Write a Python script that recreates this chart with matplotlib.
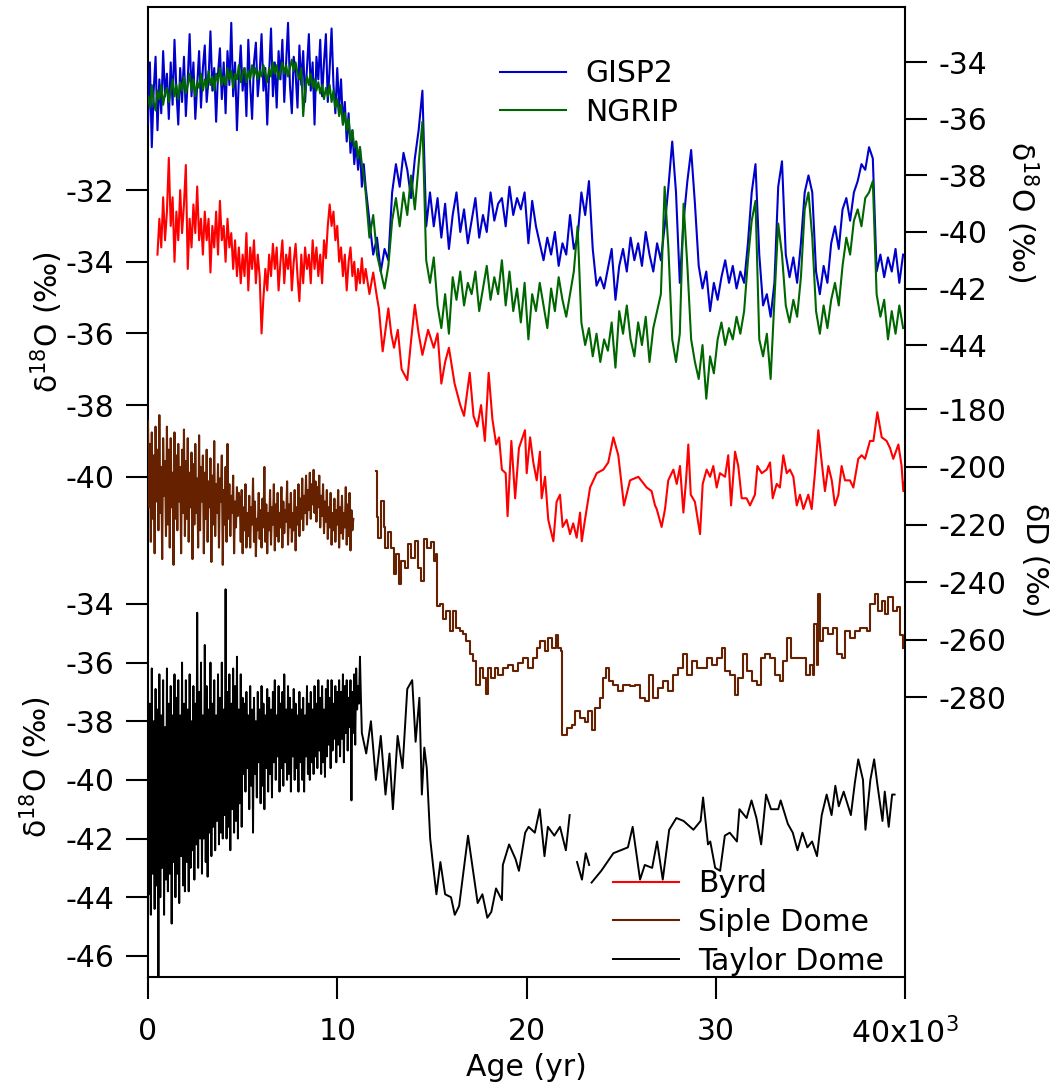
import numpy as np
import matplotlib.pyplot as plt

plt.rcParams['font.family'] = 'DejaVu Sans'
plt.rcParams['axes.unicode_minus'] = False

# ---------------- GISP2 d18O (permil) ----------------
# Holocene part, one value per 100 yr from 0 yr
gisp2_hol = [
    -36.2, -34.0, -37.0, -35.0, -33.8, -36.4, -34.6, -35.8, -33.6, -35.2,
    -34.4, -36.0, -34.0, -35.5, -33.2, -35.0, -36.2, -34.2, -35.4, -33.8,
    -35.9, -34.6, -33.0, -35.2, -34.0, -36.0, -34.8, -33.6, -35.6, -34.2,
    -33.4, -35.4, -34.6, -32.9, -35.0, -34.2, -36.1, -34.4, -33.5, -35.3,
    -34.0, -35.8, -33.6, -34.8, -32.6, -35.2, -34.0, -36.4, -34.6, -33.4,
    -35.0, -34.2, -35.9, -33.2, -34.8, -36.0, -34.0, -33.3, -35.2, -34.4,
    -33.0, -35.0, -34.2, -36.2, -34.4, -32.8, -35.2, -34.0, -35.6, -33.6,
    -34.6, -33.2, -35.4, -34.0, -32.6, -34.8, -35.8, -33.8, -34.4, -35.6,
    -33.4, -34.8, -33.6, -35.4, -34.2, -33.0, -35.0, -34.0, -36.2, -33.8,
    -34.6, -33.2, -35.2, -34.0, -33.0, -35.4, -34.2, -32.8, -34.8, -35.8,
    -34.2, -35.6, -34.6, -36.2, -35.4, -36.8, -35.8, -37.2, -36.4, -37.6,
    -36.8, -37.8, -37.0, -38.4, -37.6]
# glacial part, one value per 200 yr from 11.5 kyr
gisp2_gla = [
    -38.4, -39.6, -40.8, -40.2, -41.4, -40.6, -41.0, -38.6, -37.6, -38.4,
    -37.2, -37.8, -38.8, -37.4, -36.4, -35.0, -39.8, -38.6, -39.8, -38.8,
    -40.2, -39.0, -40.6, -39.4, -38.6, -40.0, -39.2, -40.4, -39.6, -38.8,
    -40.2, -39.4, -40.0, -38.6, -39.6, -39.0, -38.8, -39.8, -38.4, -39.4,
    -38.8, -39.2, -38.6, -40.4, -38.9, -39.8, -40.4, -41.0, -40.2, -40.8,
    -40.0, -41.2, -40.4, -40.8, -39.4, -40.6, -40.2, -38.6, -39.4, -38.2,
    -40.6, -41.9, -41.6, -42.0, -41.3, -40.6, -42.4, -41.2, -40.6, -41.4,
    -40.2, -41.0, -40.4, -41.2, -40.0, -40.8, -41.4, -40.4, -41.0, -39.8,
    -38.4, -36.8, -38.6, -41.8, -39.6, -38.2, -37.1, -39.0, -41.2, -42.0,
    -41.4, -42.8, -41.8, -42.4, -41.6, -41.0, -41.8, -41.2, -42.0, -41.4,
    -41.8, -40.4, -38.6, -37.6, -40.8, -42.6, -42.2, -43.0, -41.8, -38.4,
    -37.5, -40.8, -41.6, -40.9, -41.8, -40.4, -38.6, -38.0, -38.6, -41.4,
    -42.2, -41.2, -41.8, -40.4, -39.8, -40.6, -39.2, -38.8, -39.6, -38.6,
    -38.2, -37.6, -37.8, -37.0, -37.4, -41.4, -40.8, -41.6, -40.9, -41.4,
    -40.6, -41.8, -40.8]

# ---------------- NGRIP d18O (permil) ----------------
ngrip_hol = [
    -35.2, -35.6, -34.8, -35.4, -35.7, -35.0, -35.3, -34.8, -35.5, -35.1,
    -34.9, -35.4, -35.0, -34.6, -35.2, -34.8, -35.3, -34.7, -35.0, -34.5,
    -35.1, -34.8, -34.4, -35.0, -34.6, -35.2, -34.7, -34.9, -34.4, -35.0,
    -34.6, -34.9, -34.3, -34.8, -34.5, -35.0, -34.4, -34.7, -34.2, -34.8,
    -34.5, -34.8, -34.2, -34.6, -34.3, -34.9, -34.4, -34.6, -34.1, -34.7,
    -34.4, -34.2, -34.7, -34.3, -34.6, -34.1, -34.5, -34.2, -34.6, -34.3,
    -34.5, -34.1, -34.4, -34.7, -34.2, -34.5, -34.0, -34.4, -34.1, -34.6,
    -34.3, -34.0, -34.4, -34.1, -34.5, -34.2, -33.9, -34.3, -34.0, -34.4,
    -34.6, -34.2, -35.9, -35.0, -34.5, -34.8, -34.4, -34.9, -34.6, -35.0,
    -34.7, -35.1, -34.8, -35.3, -34.9, -35.2, -34.8, -35.4, -35.0, -35.6,
    -35.3, -35.9, -35.5, -36.2, -35.8, -36.4, -36.0, -36.8, -36.4, -37.0,
    -36.8, -37.4, -37.0, -37.6, -38.0]
ngrip_gla = [
    -38.6, -40.2, -39.4, -40.8, -41.4, -42.0, -41.2, -39.6, -38.8, -39.8,
    -38.6, -39.4, -38.0, -39.2, -37.6, -36.1, -41.0, -41.8, -40.9, -42.6,
    -43.4, -42.2, -43.6, -41.6, -42.4, -41.4, -42.6, -41.8, -42.2, -41.4,
    -42.8, -42.0, -41.2, -42.4, -41.6, -42.2, -41.0, -42.6, -41.4, -42.8,
    -42.0, -43.2, -41.8, -43.8, -42.2, -42.8, -41.8, -42.6, -43.4, -42.0,
    -42.8, -41.6, -42.4, -43.0, -42.2, -41.4, -39.8, -43.2, -44.0, -43.4,
    -44.4, -43.6, -44.6, -43.8, -44.2, -43.2, -44.8, -42.8, -43.6, -42.6,
    -43.8, -44.4, -43.2, -44.0, -43.0, -44.6, -43.4, -42.8, -42.2, -38.4,
    -40.6, -43.8, -44.6, -43.6, -39.0, -41.2, -43.8, -44.6, -45.2, -44.0,
    -45.9, -44.4, -45.0, -43.8, -43.2, -44.0, -43.4, -43.8, -43.0, -43.6,
    -42.8, -41.0, -39.6, -38.9, -43.8, -44.4, -43.6, -45.2, -42.4, -39.7,
    -40.8, -42.6, -43.2, -42.4, -43.0, -41.6, -39.2, -38.6, -40.2, -42.8,
    -43.6, -42.6, -43.4, -42.4, -41.8, -42.6, -41.2, -40.2, -40.8, -39.6,
    -39.2, -39.8, -38.8, -38.6, -38.2, -42.2, -43.0, -42.4, -43.8, -42.8,
    -43.6, -42.6, -43.4]

# ---------------- Byrd d18O (permil) ----------------
# one value per 100 yr from 0.5 kyr
byrd_hol = [
    -33.8, -32.8, -33.6, -32.2, -33.4, -32.6, -31.1, -33.0, -32.2, -34.0,
    -32.6, -33.4, -32.0, -33.2, -32.4, -31.3, -34.2, -32.8, -33.6, -32.4,
    -33.2, -31.9, -33.4, -32.8, -33.8, -32.6, -33.4, -32.8, -34.3, -33.0,
    -33.6, -32.6, -33.8, -32.3, -33.4, -33.0, -34.0, -32.8, -33.6, -33.2,
    -34.2, -33.4, -34.4, -33.6, -34.6, -33.8, -34.4, -33.2, -34.8, -33.6,
    -34.2, -33.4, -34.6, -33.8, -34.4, -36.0, -35.0, -34.2, -34.8, -33.8,
    -34.4, -33.5, -34.2, -33.6, -34.8, -34.0, -33.4, -34.6, -33.8, -34.2,
    -33.6, -34.8, -34.0, -33.5, -34.4, -35.1, -33.8, -34.6, -33.6, -34.2,
    -33.8, -34.6, -33.4, -34.2, -33.6, -34.4, -33.8, -34.6, -33.4, -33.9,
    -33.0, -32.4, -33.0, -32.6, -33.4, -33.0, -34.0, -33.6, -34.4, -33.8,
    -34.8, -34.0, -33.6, -34.4, -34.0, -34.8, -34.2, -34.6, -33.9, -34.6]
byrd_gla_age = [
    11.5, 11.7, 11.9, 12.1, 12.2, 12.4, 12.7, 12.85, 13.0, 13.2,
    13.4, 13.7, 13.9, 14.1, 14.3, 14.5, 14.8, 15.1, 15.3, 15.5,
    15.7, 15.9, 16.2, 16.5, 16.7, 17.0, 17.2, 17.4, 17.6, 17.8,
    18.0, 18.2, 18.4, 18.55, 18.7, 18.9, 19.0, 19.2, 19.4, 19.6,
    19.92, 20.01, 20.19, 20.36, 20.54, 20.71, 20.80, 20.98, 21.15, 21.42,
    21.59, 21.77, 21.91, 22.12, 22.30, 22.47, 22.65, 22.83, 22.92, 23.09,
    23.36, 23.71, 24.06, 24.32, 24.59, 24.85, 25.15, 25.47, 25.91, 26.35,
    26.61, 26.79, 26.88, 27.14, 27.32, 27.49, 27.76, 27.94, 28.11, 28.29,
    28.43, 28.55, 28.68, 28.90, 29.17, 29.31, 29.52, 29.70, 29.87, 30.05,
    30.22, 30.49, 30.66, 30.81, 31.02, 31.19, 31.37, 31.63, 31.81, 32.07,
    32.20, 32.43, 32.69, 32.87, 33.01, 33.22, 33.39, 33.57, 33.75, 33.92,
    34.10, 34.28, 34.45, 34.63, 34.89, 35.07, 35.24, 35.42, 35.60, 35.77,
    35.95, 36.13, 36.30, 36.48, 36.65, 36.83, 37.09, 37.27, 37.53, 37.71,
    37.89, 38.15, 38.33, 38.54, 38.77, 39.03, 39.21, 39.38, 39.65, 39.82,
    39.91, 40.00]
byrd_gla = [
    -34.2, -34.9, -34.3, -35.0, -35.3, -36.5, -35.3, -36.0, -36.4, -35.9,
    -37.0, -37.3, -36.2, -35.2, -36.0, -36.6, -35.9, -36.4, -36.0, -37.4,
    -36.8, -36.4, -37.4, -38.0, -38.3, -37.1, -38.3, -38.6, -38.0, -39.0,
    -37.1, -38.4, -39.1, -38.9, -39.8, -39.9, -41.1, -39.0, -40.6, -39.2,
    -38.7, -39.9, -38.9, -39.6, -40.1, -39.3, -40.6, -40.0, -41.2, -41.8,
    -40.7, -40.5, -41.4, -41.2, -41.6, -41.3, -41.7, -41.0, -41.8, -41.2,
    -40.3, -39.9, -39.8, -39.6, -38.9, -39.4, -40.8, -40.1, -40.0, -40.3,
    -40.4, -40.8, -40.9, -41.4, -40.9, -40.1, -39.8, -40.2, -39.7, -41.0,
    -40.1, -39.1, -40.5, -40.7, -41.6, -40.2, -39.8, -40.0, -39.7, -40.3,
    -39.9, -40.0, -39.4, -40.8, -39.3, -39.7, -40.6, -40.6, -40.8, -40.5,
    -39.7, -39.9, -39.8, -39.6, -40.6, -40.2, -40.3, -39.4, -39.9, -39.8,
    -40.0, -40.8, -40.5, -40.9, -40.5, -40.9, -39.9, -38.7, -39.6, -40.4,
    -39.7, -40.1, -40.8, -40.5, -39.7, -40.1, -40.1, -40.3, -39.5, -39.4,
    -39.5, -39.0, -39.0, -38.2, -38.9, -39.0, -39.2, -39.5, -39.1, -39.7,
    -40.4, -40.1]

# ---------------- Siple Dome dD (permil) ----------------
# one value per 50 yr from 0 to 4.8 kyr
siple_hol_a = [
    -184, -214, -192, -226, -188, -218, -196, -230, -186, -212,
    -194, -222, -182, -216, -200, -232, -190, -210, -198, -224,
    -186, -220, -194, -228, -190, -214, -202, -234, -188, -218,
    -196, -222, -192, -212, -200, -230, -194, -216, -187, -224,
    -198, -218, -190, -226, -202, -214, -195, -232, -199, -220,
    -192, -216, -204, -228, -189, -222, -200, -212, -196, -230,
    -202, -218, -194, -226, -205, -214, -197, -233, -203, -220,
    -191, -224, -206, -216, -199, -228, -204, -212, -196, -234,
    -208, -220, -200, -226, -192, -218, -206, -224, -210, -216,
    -203, -230, -212, -221, -207, -217, -209]
# one value per 50 yr from 4.85 to 10.85 kyr
siple_hol_b = [
    -212, -226, -208, -230, -214, -222, -206, -228, -216, -224,
    -210, -228, -214, -220, -204, -226, -212, -231, -218, -222,
    -209, -225, -215, -228, -211, -221, -200, -226, -213, -230,
    -216, -222, -208, -227, -214, -220, -206, -229, -213, -224,
    -209, -226, -216, -221, -207, -228, -212, -223, -215, -219,
    -205, -227, -213, -221, -209, -226, -216, -222, -208, -229,
    -214, -220, -206, -224, -211, -218, -204, -222, -210, -216,
    -203, -220, -208, -215, -202, -218, -206, -213, -201, -216,
    -205, -219, -207, -214, -203, -221, -210, -217, -206, -223,
    -212, -219, -208, -225, -214, -221, -209, -227, -216, -222,
    -211, -226, -215, -220, -208, -228, -214, -223, -210, -225,
    -216, -221, -207, -227, -213, -224, -209, -229, -215, -222,
    -218]
siple_gla_age = [
    12.03, 12.08, 12.15, 12.33, 12.47, 12.54, 12.68, 12.82, 12.98, 13.12,
    13.25, 13.39, 13.56, 13.74, 13.91, 14.09, 14.27, 14.41, 14.58, 14.76,
    14.94, 15.11, 15.24, 15.28, 15.41, 15.59, 15.76, 15.94, 16.12, 16.29,
    16.47, 16.65, 16.82, 17.00, 17.17, 17.35, 17.53, 17.70, 17.84, 17.97,
    18.14, 18.32, 18.50, 18.76, 19.02, 19.29, 19.55, 19.83, 20.10, 20.36,
    20.54, 20.71, 20.98, 21.15, 21.33, 21.56, 21.68, 21.80, 21.89, 22.12,
    22.38, 22.56, 22.83, 23.09, 23.27, 23.44, 23.62, 23.88, 24.06, 24.20,
    24.38, 24.59, 24.85, 25.12, 25.47, 25.73, 25.99, 26.26, 26.49, 26.70,
    26.97, 27.23, 27.49, 27.76, 28.03, 28.25, 28.46, 28.73, 28.99, 29.26,
    29.52, 29.79, 30.05, 30.31, 30.49, 30.75, 31.02, 31.19, 31.42, 31.63,
    31.90, 32.16, 32.37, 32.60, 32.87, 33.13, 33.39, 33.57, 33.75, 33.96,
    34.28, 34.54, 34.77, 34.98, 35.12, 35.21, 35.33, 35.42, 35.51, 35.68,
    35.95, 36.21, 36.39, 36.65, 36.83, 37.09, 37.36, 37.62, 37.98, 38.15,
    38.42, 38.59, 38.77, 38.95, 39.12, 39.35, 39.56, 39.74, 39.91]
siple_gla = [
    -201.3, -217.5, -224.5, -211.7, -220.8, -228.0, -222.6, -228.0, -237.3, -230.3,
    -240.7, -232.6, -235.0, -226.8, -231.5, -225.6, -235.0, -239.6, -225.0, -228.0,
    -226.2, -232.6, -230.3, -248.3, -247.7, -252.9, -250.0, -257.0, -250.0, -255.8,
    -257.0, -258.1, -260.5, -265.1, -267.4, -275.6, -269.9, -273.3, -279.0, -269.9,
    -273.3, -269.9, -272.2, -269.9, -268.7, -271.0, -268.2, -266.3, -269.8, -266.3,
    -262.8, -260.5, -264.0, -259.3, -262.8, -258.2, -262.8, -264.0, -293.0, -290.7,
    -289.5, -284.9, -287.2, -288.4, -284.9, -291.3, -283.7, -280.2, -273.3, -269.8,
    -274.4, -275.6, -277.9, -275.6, -276.2, -275.6, -280.2, -281.4, -272.1, -280.2,
    -276.7, -274.4, -277.9, -272.1, -269.8, -265.1, -272.1, -267.5, -269.8, -269.8,
    -266.3, -268.6, -266.3, -262.8, -270.9, -272.1, -279.1, -273.3, -265.1, -270.9,
    -274.4, -275.6, -266.3, -265.1, -266.3, -272.1, -274.4, -267.5, -259.3, -266.3,
    -266.3, -266.3, -272.1, -268.6, -272.1, -254.7, -268.6, -244.2, -260.5, -255.8,
    -258.1, -255.8, -265.1, -266.3, -257.0, -259.3, -257.0, -255.8, -257.0, -247.7,
    -244.2, -250.0, -246.5, -251.1, -245.3, -250.0, -248.8, -258.2, -262.8]

# ---------------- Taylor Dome d18O (permil) ----------------
# one value per 50 yr from 0 to 5 kyr
taylor_hol_a = [
    -36.8, -43.9, -37.4, -44.6, -36.2, -43.2, -38.0, -44.4, -36.9, -43.6,
    -37.6, -46.9, -36.4, -44.0, -37.8, -43.0, -36.6, -44.6, -38.2, -43.4,
    -36.2, -43.8, -37.4, -43.2, -36.8, -44.9, -37.8, -42.8, -36.4, -44.0,
    -37.2, -43.2, -36.6, -44.2, -37.8, -42.6, -36.0, -43.6, -37.4, -43.8,
    -36.6, -42.8, -37.6, -43.8, -36.4, -43.0, -38.0, -42.4, -36.8, -43.4,
    -37.4, -42.2, -34.3, -43.0, -37.0, -42.0, -36.0, -43.2, -37.8, -42.0,
    -35.4, -42.8, -36.8, -43.3, -37.6, -41.8, -36.0, -42.6, -37.4, -41.6,
    -36.6, -42.4, -37.8, -41.4, -36.4, -42.2, -37.2, -41.8, -36.0, -42.0,
    -37.6, -41.2, -33.5, -42.0, -37.0, -41.6, -36.4, -42.4, -37.4, -41.0,
    -36.2, -41.8, -36.8, -41.4, -35.8, -42.0, -37.6, -40.8, -36.4, -41.6,
    -37.2]
# one value per 50 yr from 5.05 to 11.3 kyr
taylor_hol_b = [
    -39.8, -37.4, -40.4, -37.0, -39.6, -37.8, -41.0, -36.8, -40.2, -37.6,
    -41.8, -37.2, -39.8, -38.0, -40.6, -37.0, -39.4, -37.6, -40.8, -36.8,
    -40.2, -37.4, -41.0, -37.8, -39.6, -36.9, -40.4, -37.2, -39.8, -37.6,
    -40.6, -37.0, -39.4, -36.6, -40.0, -37.8, -39.2, -36.8, -40.4, -37.4,
    -39.6, -37.0, -40.2, -36.4, -39.4, -37.6, -40.0, -36.8, -39.8, -37.2,
    -40.4, -37.6, -39.2, -36.9, -40.0, -37.4, -39.6, -37.8, -40.4, -37.0,
    -39.4, -37.6, -40.0, -37.2, -40.4, -37.8, -39.2, -36.8, -39.8, -37.4,
    -40.0, -37.0, -39.4, -37.6, -39.8, -36.8, -39.2, -37.4, -39.6, -36.6,
    -39.0, -37.2, -39.8, -36.8, -39.4, -37.6, -39.9, -36.9, -39.2, -36.6,
    -38.8, -37.2, -39.6, -36.6, -39.0, -37.4, -38.6, -36.8, -39.4, -37.0,
    -38.8, -36.6, -39.2, -37.0, -38.6, -36.4, -39.4, -36.8, -38.4, -36.6,
    -39.0, -37.2, -38.2, -36.6, -40.7, -37.0, -38.4, -36.4, -38.8, -36.2,
    -37.6, -36.8, -37.4, -35.8, -37.2, -38.4]
taylor_gla_age = [
    11.53, 11.78, 12.04, 12.30, 12.55, 12.76, 12.94, 13.19, 13.45, 13.70,
    13.96, 14.14, 14.34, 14.47, 14.60, 14.73, 14.91, 15.06, 15.24, 15.45,
    15.70, 16.01, 16.21, 16.44, 16.91, 17.42, 17.67, 17.93, 18.14, 18.39,
    18.70, 18.75, 19.08, 19.42, 19.60, 19.93, 20.11, 20.44, 20.70, 20.95,
    21.13, 21.47, 21.77, 22.08, 22.28, 22.45, 22.67, 22.93, 23.13, 23.31,
    23.38, 23.44, 23.95, 24.59, 25.36, 25.61, 26.00, 26.25, 26.64, 26.90,
    27.20, 27.54, 27.92, 28.30, 28.82, 29.20, 29.33, 29.59, 29.71, 29.97,
    30.23, 30.48, 30.74, 31.12, 31.25, 31.63, 31.89, 32.15, 32.40, 32.66,
    32.92, 33.30, 33.43, 33.81, 34.07, 34.32, 34.58, 34.84, 35.09, 35.35,
    35.60, 35.86, 36.12, 36.32, 36.50, 36.76, 37.14, 37.35, 37.53, 37.78,
    37.91, 38.17, 38.37, 38.55, 38.81, 38.93, 39.14, 39.32, 39.45]
taylor_gla = [
    -39.1, -38.0, -40.0, -38.5, -40.5, -39.1, -41.0, -38.5, -39.6, -36.9,
    -36.6, -38.7, -37.2, -40.5, -38.9, -39.6, -42.0, -42.9, -43.9, -42.8,
    -43.9, -44.0, -44.6, -44.3, -41.9, -44.2, -43.9, -44.7, -44.5, -43.7,
    -44.1, -42.9, -42.2, -42.7, -43.1, -41.8, -41.6, -41.8, -41.0, -42.6,
    -41.6, -41.9, -41.6, -42.4, -41.2, np.nan, -42.8, -43.4, -42.5, -42.9,
    np.nan, -43.5, -43.1, -42.5, -42.3, -41.6, -43.4, -42.9, -43.0, -42.1,
    -43.4, -41.7, -41.3, -41.4, -41.7, -41.4, -40.6, -42.2, -42.1, -43.0,
    -43.1, -41.9, -41.8, -42.1, -41.0, -41.3, -40.7, -41.3, -42.2, -40.5,
    -41.0, -41.0, -40.7, -41.5, -41.8, -42.4, -41.8, -42.3, -42.1, -42.6,
    -41.2, -40.5, -41.2, -40.2, -40.9, -40.4, -41.2, -40.1, -39.3, -40.0,
    -41.7, -40.0, -39.3, -40.2, -41.4, -40.4, -41.6, -40.5, -40.5]

# ---- assemble age axes (kyr -> yr) ----
gisp2_age = np.concatenate([np.arange(len(gisp2_hol)) * 0.1,
                            11.5 + np.arange(len(gisp2_gla)) * 0.2]) * 1000
gisp2 = np.array(gisp2_hol + gisp2_gla)
ngrip_age = np.concatenate([np.arange(len(ngrip_hol)) * 0.1,
                            11.5 + np.arange(len(ngrip_gla)) * 0.2]) * 1000
ngrip = np.array(ngrip_hol + ngrip_gla)
byrd_age = np.concatenate([0.5 + np.arange(len(byrd_hol)) * 0.1, byrd_gla_age]) * 1000
byrd = np.array(byrd_hol + byrd_gla)
siple_hol_age = np.concatenate([np.arange(len(siple_hol_a)) * 0.05,
                                4.85 + np.arange(len(siple_hol_b)) * 0.05]) * 1000
siple_hol = np.array(siple_hol_a + siple_hol_b)
siple_gla_age = np.array(siple_gla_age) * 1000
taylor_age = np.concatenate([np.arange(len(taylor_hol_a)) * 0.05,
                             5.05 + np.arange(len(taylor_hol_b)) * 0.05,
                             taylor_gla_age]) * 1000
taylor = np.array(taylor_hol_a + taylor_hol_b + taylor_gla)

W, H = 1050, 1087
FS = 21.5
fig = plt.figure(figsize=(W / 100, H / 100), dpi=100)
ax = fig.add_axes([148 / W, 1 - 977 / H, (905 - 148) / W, (977 - 7) / H])
ax_t = ax.twinx()   # Taylor Dome, lower left scale
ax_g = ax.twinx()   # GISP2 / NGRIP, upper right scale
ax_s = ax.twinx()   # Siple Dome dD, lower right scale

tick_kw = dict(direction='out', length=16, width=1.5, labelsize=FS, pad=8)

ax.set_xlim(0, 40000)
ax.set_ylim(-53.96, -26.89)
ax.set_yticks([-40, -38, -36, -34, -32])
ax.set_xticks([0, 10000, 20000, 30000, 40000])
ax.set_xticklabels(['0', '10', '20', '30', '40x10$^3$'])
ax.tick_params(axis='y', left=True, right=False, **tick_kw)
ax.tick_params(axis='x', top=False, **dict(tick_kw, pad=13))
for sp in ax.spines.values():
    sp.set_linewidth(1.5)

ax_t.set_ylim(-46.72, -13.65)
ax_t.set_yticks([-46, -44, -42, -40, -38, -36, -34])
ax_t.yaxis.set_ticks_position('left')
ax_t.tick_params(axis='y', left=True, labelleft=True, right=False, labelright=False, **tick_kw)

ax_g.set_ylim(-66.36, -32.04)
ax_g.set_yticks([-44, -42, -40, -38, -36, -34])
ax_g.tick_params(axis='y', **tick_kw)

ax_s.set_ylim(-377.1, -40.3)
ax_s.set_yticks([-280, -260, -240, -220, -200, -180])
ax_s.tick_params(axis='y', **tick_kw)

for a in (ax_t, ax_g, ax_s):
    for sp in a.spines.values():
        sp.set_visible(False)

l_byrd, = ax.plot(byrd_age, byrd, color='#ff0000', lw=1.5)
l_taylor, = ax_t.plot(taylor_age, taylor, color='black', lw=1.4)
l_gisp2, = ax_g.plot(gisp2_age, gisp2, color='#0000cc', lw=1.5)
l_ngrip, = ax_g.plot(ngrip_age, ngrip, color='#006600', lw=1.5)
l_siple, = ax_s.plot(siple_hol_age, siple_hol, color='#662200', lw=1.5)
ax_s.plot(siple_gla_age, siple_gla, color='#662200', lw=1.5, drawstyle='steps-post')

leg_kw = dict(frameon=False, fontsize=FS, handlelength=2.2, handletextpad=0.65,
              labelspacing=0.33, borderpad=0, borderaxespad=0,
              bbox_transform=fig.transFigure, loc='upper left')
leg1 = ax_s.legend([l_gisp2, l_ngrip], ['GISP2', 'NGRIP'],
                   bbox_to_anchor=(500 / W, 1 - 59 / H), **leg_kw)
ax_s.add_artist(leg1)
ax_s.legend([l_byrd, l_siple, l_taylor], ['Byrd', 'Siple Dome', 'Taylor Dome'],
            bbox_to_anchor=(613 / W, 1 - 869 / H), **leg_kw)

lab = 'δ$^{18}$O (‰)'
fig.text(47 / W, 1 - 322 / H, lab, rotation=90, ha='center', va='center', fontsize=FS)
fig.text(36 / W, 1 - 767 / H, lab, rotation=90, ha='center', va='center', fontsize=FS)
fig.text(1022 / W, 1 - 212 / H, lab, rotation=270, ha='center', va='center', fontsize=FS)
fig.text(1035 / W, 1 - 560 / H, 'δD (‰)', rotation=270, ha='center', va='center', fontsize=FS)
fig.text(526 / W, 1 - 1068 / H, 'Age (yr)', ha='center', va='center', fontsize=FS)

fig.savefig('out.png', dpi=100)
